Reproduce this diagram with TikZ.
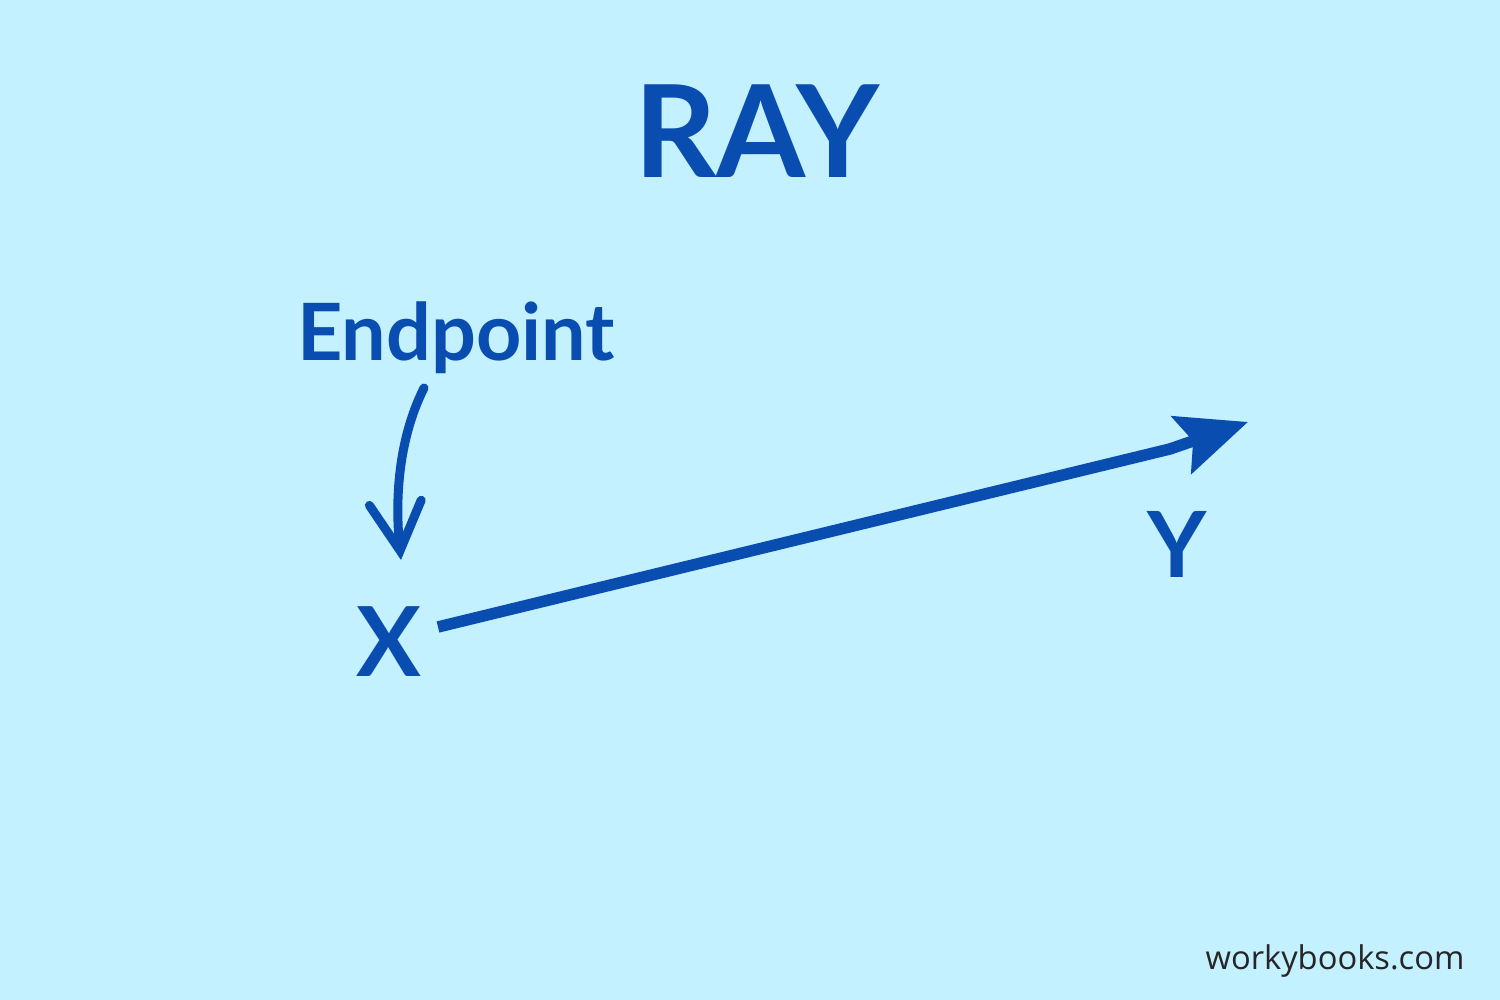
\documentclass[tikz,border=0pt]{standalone}
\usepackage{fontspec}
\setmainfont{Lato}
\newfontfamily\markfont{Open Sans}
\usetikzlibrary{arrows.meta}
\definecolor{raybg}{HTML}{C4F1FF}
\definecolor{rayblue}{HTML}{0A4DB0}
\tikzset{
  label text/.style={text=rayblue, font=\fontsize{22.5}{28}\selectfont\bfseries, inner sep=0pt},
}
\begin{document}
\begin{tikzpicture}
    \fill[raybg] (0,0) rectangle (15,10);
    \useasboundingbox (0,0) rectangle (15,10);

    \node[label text, font=\fontsize{36.5}{44}\selectfont\bfseries] (title) at (7.57,8.69) {RAY};
    \node[label text] (endpoint) at (4.56,6.62) {Endpoint};
    \node[label text, font=\fontsize{27.5}{34}\selectfont\bfseries] (x) at (3.89,3.58) {X};
    \node[label text, font=\fontsize{26}{32}\selectfont\bfseries] (y) at (11.77,4.56) {Y};
    \node[text=black!85, font=\markfont\fontsize{9.3}{12}\selectfont, inner sep=0pt] (site) at (13.35,0.39) {workybooks.com};

    \coordinate (raytip) at (12.48,5.78);
    \coordinate (xmark) at (4.01,4.40);

    \draw[rayblue, line width=1.15mm, line cap=butt, -{Stealth[length=7mm, width=6mm, inset=1.2mm]}] (4.38,3.73) -- (11.70,5.51) -- (raytip);
    \draw[rayblue, line width=0.9mm, line cap=round, -{Straight Barb[length=4.8mm, width=5.2mm, line width=0.9mm, line cap=round]}] (4.24,6.12) .. controls (3.98,5.6) and (3.95,5.0) .. (xmark);
\end{tikzpicture}
\end{document}
